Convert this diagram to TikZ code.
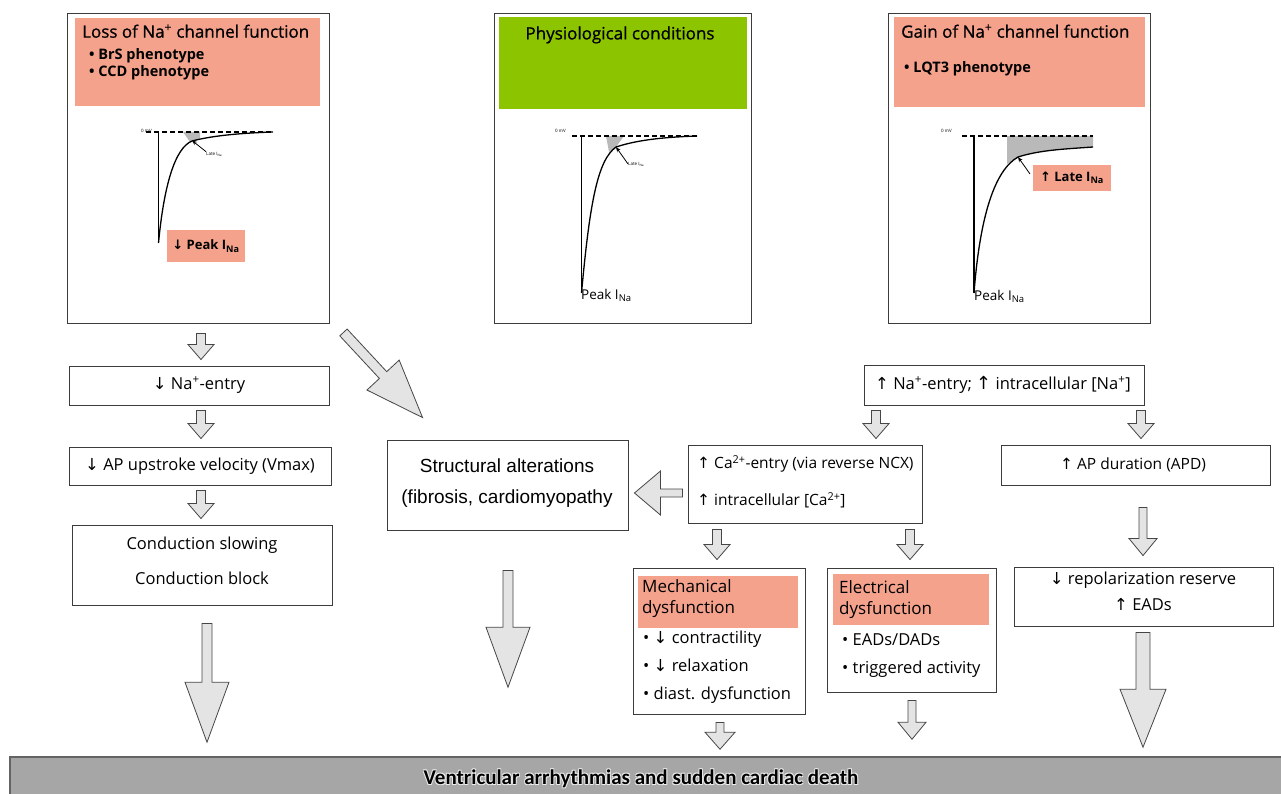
\documentclass[tikz,border=0pt]{standalone}
\usepackage{fontspec}
\setmainfont{Open Sans}
\newfontfamily\semib[FakeBold=0.8]{Open Sans}
\newfontfamily\arialf{Liberation Sans}
\newfontfamily\dvf{DejaVu Sans}
\newfontfamily\carl{Carlito}
\usetikzlibrary{calc,arrows.meta}
\definecolor{pinkh}{RGB}{244,162,140}
\definecolor{greenh}{RGB}{140,196,0}
\definecolor{arrf}{RGB}{228,228,228}
\definecolor{arrd}{RGB}{70,70,70}
\definecolor{boxc}{RGB}{60,60,60}
\definecolor{barf}{RGB}{166,166,166}
\definecolor{bard}{RGB}{100,100,100}
\newcommand{\uarr}{{\dvf\char"2191}}
\newcommand{\darr}{{\dvf\char"2193}}
\newcommand{\blockarr}[5]{%
  \coordinate (hb) at ($(#2)!#5!(#1)$);
  \filldraw[blockar] ($(#1)!#3!90:(#2)$) -- ($(hb)!#3!-90:(#1)$) -- ($(hb)!#4!-90:(#1)$) -- (#2)
     -- ($(hb)!#4!90:(#1)$) -- ($(hb)!#3!90:(#1)$) -- ($(#1)!#3!-90:(#2)$) -- cycle;
}
\begin{document}
\begin{tikzpicture}[x=1pt,y=-1pt,
  box/.style={draw=boxc, line width=0.9pt, fill=white, inner sep=0pt},
  hdr/.style={fill=#1, draw=none, inner sep=0pt},
  txt/.style={inner sep=0pt, font=\fontsize{16.5}{19}\selectfont},
  ttxt/.style={inner sep=0pt, font=\fontsize{17}{20}\selectfont},
  htxt/.style={inner sep=0pt, font=\semib\fontsize{17}{20}\selectfont},
  ctxt/.style={inner sep=0pt, font=\fontsize{15.5}{18}\selectfont},
  btxt/.style={inner sep=0pt, font=\fontsize{14.5}{17}\selectfont\bfseries},
  stxt/.style={inner sep=0pt, font=\arialf\fontsize{19}{22}\selectfont},
  tinytxt/.style={inner sep=0pt, font=\fontsize{4.5}{5}\selectfont},
  peaktxt/.style={inner sep=0pt, font=\fontsize{13.5}{16}\selectfont},
  blockar/.style={fill=arrf, draw=arrd, line width=0.8pt, line join=miter},
  apcurve/.style={line width=1.3pt},
  zeroline/.style={line width=1.2pt, dash pattern=on 5pt off 3pt},
  ptr/.style={line width=0.8pt, -{Stealth[length=5pt,width=4pt]}}
]
\useasboundingbox (0,0) rectangle (1281,794);
\fill[white] (0,0) rectangle (1281,794);

% ---------- top left panel ----------
\node[box, minimum width=262pt, minimum height=310pt] (loss) at (198,168) {};
\node[hdr=pinkh, minimum width=245pt, minimum height=88pt] (lossh) at (197.5,62) {};
\node[htxt, anchor=mid west] (losst) at (82,35) {Loss of Na\textsuperscript{+} channel function};
\node[btxt, anchor=mid west] (lossb1) at (89,57) {\textbullet\ BrS phenotype};
\node[btxt, anchor=mid west] (lossb2) at (89,74) {\textbullet\ CCD phenotype};
\fill[gray!55] (183,132) -- (200,132) -- (200,139) -- (190,142) -- cycle;
\draw[zeroline] (146,132) -- (273,132);
\draw[apcurve] (158.5,132) -- (158.5,243);
\draw[apcurve] (158.5,243) .. controls (164,185) and (175,148) .. (192,141) .. controls (215,135) and (245,133) .. (273,132);
\node[tinytxt, anchor=east] (lz) at (152,131) {0 mV};
\node[tinytxt, anchor=west] (ll) at (206,154) {Late I\textsubscript{Na}};
\draw[ptr] (ll.north west) -- (192,140.5);
\node[hdr=pinkh, minimum width=78pt, minimum height=32pt] (peakb) at (206,246) {};
\node[btxt, font=\fontsize{13}{15}\selectfont\bfseries] at (peakb) {\darr\ Peak I\textsubscript{Na}};

% ---------- top middle panel ----------
\node[box, minimum width=257pt, minimum height=310pt] (phys) at (622.5,168) {};
\node[hdr=greenh, minimum width=248pt, minimum height=92pt] (physh) at (623,63) {};
\node[htxt] (physt) at (620,35) {Physiological conditions};
\fill[gray!55] (606,136) -- (624,136) -- (616,147) -- (609,152) -- cycle;
\draw[zeroline] (572,136) -- (697,136);
\draw[apcurve] (581.5,136) -- (581.5,293);
\draw[apcurve] (581.5,293) .. controls (590,200) and (598,160) .. (616,147) .. controls (640,139) and (670,137) .. (697,136);
\node[tinytxt, anchor=east] (mz) at (566,131) {0 mV};
\node[tinytxt, anchor=west] (ml) at (628,164) {Late I\textsubscript{Na}};
\draw[ptr] (ml.west) -- (616,147);
\node[peaktxt, anchor=mid west] (mp) at (581,297) {Peak I\textsubscript{Na}};

% ---------- top right panel ----------
\node[box, minimum width=262pt, minimum height=310pt] (gain) at (1019,168) {};
\node[hdr=pinkh, minimum width=251pt, minimum height=90pt] (gainh) at (1019.5,62) {};
\node[htxt, anchor=mid west] (gaint) at (901,35) {Gain of Na\textsuperscript{+} channel function};
\node[btxt, anchor=mid west] (gainb1) at (904,70) {\textbullet\ LQT3 phenotype};
\fill[gray!55] (1007,136) -- (1093,136) -- (1093,147) .. controls (1065,149) and (1040,150) .. (1018,157) -- (1007,164) -- cycle;
\draw[zeroline] (962,136) -- (1093,136);
\draw[apcurve] (974,136) -- (974,293);
\draw[apcurve] (974,293) .. controls (980,215) and (995,170) .. (1018,157) .. controls (1040,150) and (1065,149) .. (1093,147);
\node[tinytxt, anchor=east] (rz) at (952,131) {0 mV};
\node[hdr=pinkh, minimum width=78pt, minimum height=26pt] (lateb) at (1072,178) {};
\node[btxt, font=\fontsize{13}{15}\selectfont\bfseries] at (lateb) {\uarr\ Late I\textsubscript{Na}};
\draw[ptr] (1030,174) -- (1018,157);
\node[peaktxt, anchor=mid west] (rp) at (974,298) {Peak I\textsubscript{Na}};

% ---------- left column ----------
\node[box, minimum width=260pt, minimum height=39pt] (naent) at (199,385.5) {};
\node[txt] at (199,385) {\darr\ Na\textsuperscript{+}-entry};
\node[box, minimum width=262pt, minimum height=38pt] (apup) at (200,466) {};
\node[txt] at (200,466) {\darr\ AP upstroke velocity (Vmax)};
\node[box, minimum width=260pt, minimum height=80pt] (cond) at (202,565) {};
\node[txt] at (202,545) {Conduction slowing};
\node[txt] at (202,578) {Conduction block};

% ---------- structural ----------
\node[box, minimum width=241pt, minimum height=90pt] (struct) at (507.5,485) {};
\node[stxt] at (507,466) {Structural alterations};
\node[stxt] at (507,499) {(fibrosis, cardiomyopathy};

% ---------- right side ----------
\node[box, minimum width=280pt, minimum height=40pt] (naup) at (1004,385) {};
\node[txt] at (1003,385) {\uarr\ Na\textsuperscript{+}-entry; {\dvf\fontsize{18}{19}\selectfont\char"2191} intracellular [Na\textsuperscript{+}]};
\node[box, minimum width=234pt, minimum height=78pt] (ca) at (805,484) {};
\node[ctxt, anchor=mid west] at (697,466) {\uarr\ Ca\textsuperscript{2+}-entry (via reverse NCX)};
\node[ctxt, anchor=mid west] at (697,503) {\uarr\ intracellular [Ca\textsuperscript{2+}]};
\node[box, minimum width=269pt, minimum height=40pt] (apd) at (1135.5,465) {};
\node[ctxt] at (1133,465) {\uarr\ AP duration (APD)};
\node[box, minimum width=259pt, minimum height=59pt] (repol) at (1143.5,596.5) {};
\node[txt] at (1143,580) {\darr\ repolarization reserve};
\node[txt] at (1143,605) {\uarr\ EADs};

% mechanical / electrical
\node[box, minimum width=172pt, minimum height=146pt] (mech) at (719,641) {};
\node[hdr=pinkh, minimum width=160pt, minimum height=52pt] (mechh) at (718,602) {};
\node[ttxt, anchor=mid west] at (642,590) {Mechanical};
\node[ttxt, anchor=mid west] at (642,611) {dysfunction};
\node[txt, anchor=mid west] at (643,641) {\textbullet\ \darr\ contractility};
\node[txt, anchor=mid west] at (643,669) {\textbullet\ \darr\ relaxation};
\node[txt, anchor=mid west] at (643,697) {\textbullet\ diast. dysfunction};
\node[box, minimum width=169pt, minimum height=124pt] (elec) at (911.5,630) {};
\node[hdr=pinkh, minimum width=156pt, minimum height=51pt] (elech) at (911,599.5) {};
\node[ttxt, anchor=mid west] at (839,591) {Electrical};
\node[ttxt, anchor=mid west] at (839,612) {dysfunction};
\node[txt, anchor=mid west] at (842,643) {\textbullet\ EADs/DADs};
\node[txt, anchor=mid west] at (842,671) {\textbullet\ triggered activity};

% ---------- bottom bar ----------
\node[draw=bard, fill=barf, line width=1.5pt, minimum width=1280pt, minimum height=43pt, inner sep=0pt] (bar) at (650,778.5) {};
\foreach \dx/\dy in {0.8/0.8,-0.8/0.8,0.8/-0.8,-0.8/-0.8}
  \node[inner sep=0pt, text=white!85!gray, font=\carl\fontsize{21}{23}\selectfont\bfseries] at (641+\dx,779+\dy) {Ventricular arrhythmias and sudden cardiac death};
\node[inner sep=0pt, font=\carl\fontsize{21}{23}\selectfont\bfseries] (bart) at (641,779) {Ventricular arrhythmias and sudden cardiac death};

% ---------- block arrows ----------
\coordinate (a1s) at ($(loss.south)+(3,10)$);   \coordinate (a1e) at ($(naent.north)+(2,-6)$);
\coordinate (a2s) at ($(naent.south)+(2,5)$);   \coordinate (a2e) at ($(apup.north)+(1,-8)$);
\coordinate (a3s) at ($(apup.south)+(1,5)$);    \coordinate (a3e) at ($(cond.north)+(-1,-6)$);
\coordinate (a4s) at ($(cond.south)+(5,18)$);   \coordinate (a4e) at ($(cond.south |- bar.north)+(5,-14)$);
\coordinate (a5s) at ($(loss.south east)+(14,9)$); \coordinate (a5e) at ($(struct.north west)+(36,-22)$);
\coordinate (a6s) at ($(struct.south)+(0.5,40)$); \coordinate (a6e) at ($(struct.south |- bar.north)+(0.5,-69)$);
\coordinate (a7s) at ($(ca.west)+(-5,9)$);      \coordinate (a7e) at ($(struct.east)+(6,8)$);
\coordinate (a8s) at ($(naup.south)+(-128,5)$); \coordinate (a8e) at ($(ca.north)+(71,-6)$);
\coordinate (a9s) at ($(naup.south)+(137,5)$);  \coordinate (a9e) at ($(apd.north)+(5.5,-6)$);
\coordinate (a10s) at ($(apd.south)+(7.5,22)$); \coordinate (a10e) at ($(repol.north)+(-0.5,-11)$);
\coordinate (a11s) at ($(repol.south)+(-0.5,6)$); \coordinate (a11e) at ($(repol.south |- bar.north)+(-0.5,-9)$);
\coordinate (a12s) at ($(ca.south)+(-88,6)$);   \coordinate (a12e) at ($(mech.north)+(-2,-8)$);
\coordinate (a13s) at ($(ca.south)+(105,6)$);   \coordinate (a13e) at ($(elec.north)+(-1.5,-8)$);
\coordinate (a14s) at ($(mech.south)+(1,8)$);   \coordinate (a14e) at ($(mech.south |- bar.north)+(1,-7)$);
\coordinate (a15s) at ($(elec.south)+(0.5,8)$); \coordinate (a15e) at ($(elec.south |- bar.north)+(0.5,-17)$);

\blockarr{a1s}{a1e}{4.5pt}{13pt}{15pt}
\blockarr{a2s}{a2e}{4.5pt}{13pt}{15pt}
\blockarr{a3s}{a3e}{4.5pt}{13pt}{15pt}
\blockarr{a4s}{a4e}{5pt}{22pt}{60pt}
\blockarr{a5s}{a5e}{5pt}{22pt}{58pt}
\blockarr{a6s}{a6e}{5pt}{22pt}{60pt}
\blockarr{a7s}{a7e}{4pt}{22pt}{26pt}
\blockarr{a8s}{a8e}{4.5pt}{13pt}{15pt}
\blockarr{a9s}{a9e}{4.5pt}{13pt}{15pt}
\blockarr{a10s}{a10e}{4pt}{14pt}{17pt}
\blockarr{a11s}{a11e}{7pt}{23pt}{58pt}
\blockarr{a12s}{a12e}{4.5pt}{13pt}{15pt}
\blockarr{a13s}{a13e}{4.5pt}{13pt}{15pt}
\blockarr{a14s}{a14e}{4pt}{15pt}{17pt}
\blockarr{a15s}{a15e}{4pt}{14pt}{17pt}
\end{tikzpicture}
\end{document}
